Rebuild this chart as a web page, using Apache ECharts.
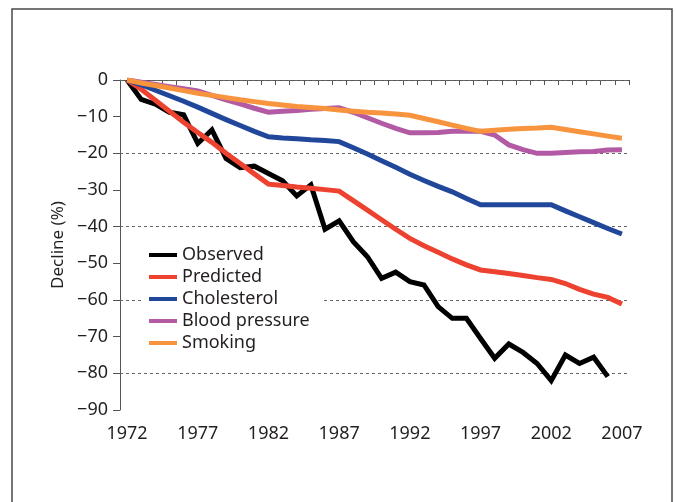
<!DOCTYPE html>
<html>
<head>
<meta charset="utf-8">
<script src="https://cdn.jsdelivr.net/npm/echarts@6/dist/echarts.min.js"></script>
<style>
html,body{margin:0;padding:0;background:#fff;}
#chart{width:676px;height:502px;}
</style>
</head>
<body>
<div id="chart"></div>
<script>
var years = [];
for (var y = 1972; y <= 2007; y++) years.push(String(y));

var observed = [0, -5.3, -6.6, -8.8, -9.5, -17.3, -13.6, -21.4, -23.9, -23.5, -25.5, -27.5,
  -31.6, -28.6, -40.7, -38.4, -44.1, -48.2, -54.1, -52.4, -55.0, -55.9, -61.8, -65.0, -65.0,
  -70.5, -75.9, -72.0, -74.3, -77.3, -82.0, -75.0, -77.3, -75.6, -80.9, null];
var predicted = [0, -2.5, -5.5, -8.5, -11.5, -14.3, -17.0, -20.0, -22.8, -25.6, -28.4, -28.8,
  -29.2, -29.5, -29.9, -30.3, -32.9, -35.5, -38.1, -40.7, -43.2, -45.2, -47.0, -48.8, -50.4,
  -51.8, -52.3, -52.8, -53.3, -53.9, -54.4, -55.5, -57.1, -58.4, -59.3, -61.1];
var cholesterol = [0, -1.3, -2.8, -4.3, -5.8, -7.4, -9.1, -10.8, -12.4, -14.0, -15.5, -15.8,
  -16.0, -16.3, -16.5, -16.8, -18.5, -20.2, -22.0, -23.8, -25.7, -27.4, -29.0, -30.5, -32.3,
  -34.0, -34.0, -34.0, -34.0, -34.0, -34.0, -35.7, -37.3, -38.9, -40.5, -42.0];
var bloodPressure = [0, -0.6, -1.2, -1.8, -2.4, -3.0, -4.2, -5.4, -6.5, -7.7, -8.8, -8.5,
  -8.3, -8.0, -7.8, -7.6, -8.8, -10.3, -11.8, -13.2, -14.4, -14.4, -14.3, -14.0, -14.0,
  -14.0, -15.0, -17.7, -19.0, -20.0, -20.0, -19.8, -19.6, -19.5, -19.1, -19.0];
var smoking = [0, -0.8, -1.5, -2.2, -2.9, -3.6, -4.2, -4.8, -5.4, -5.9, -6.4, -6.8,
  -7.2, -7.5, -7.8, -8.2, -8.5, -8.8, -9.0, -9.3, -9.6, -10.5, -11.4, -12.3, -13.2,
  -14.0, -13.7, -13.4, -13.2, -13.1, -12.9, -13.5, -14.1, -14.7, -15.3, -15.9];
var gridValues = [0, -20, -40, -60, -80];

var seriesNames = ['Observed', 'Predicted', 'Cholesterol', 'Blood pressure', 'Smoking'];
var seriesData = [observed, predicted, cholesterol, bloodPressure, smoking];
var colors = ['#000000', '#ee4230', '#21479b', '#b35aa5', '#f7943d'];

var FONT = 'Noto Sans';
var chart = echarts.init(document.getElementById('chart'), null, {renderer: 'canvas'});

var series = [{
  type: 'line', data: [], silent: true, z: 1,
  markLine: {
    silent: true, symbol: 'none', label: {show: false}, z: 1,
    lineStyle: {color: '#666', type: [3, 3], width: 1},
    data: gridValues.map(function (v) { return {yAxis: v}; })
  }
}];
seriesNames.forEach(function (n, i) {
  series.push({
    name: n, type: 'line', data: seriesData[i], showSymbol: false, symbol: 'none',
    lineStyle: {color: colors[i], width: 5, join: 'miter'}, itemStyle: {color: colors[i]},
    z: 3, connectNulls: false
  });
});

chart.setOption({
  animation: false,
  backgroundColor: '#fff',
  graphic: [{
    type: 'rect', shape: {x: 12, y: 9, width: 660, height: 510},
    style: {fill: 'none', stroke: '#4a4a4a', lineWidth: 1.5}, silent: true
  }],
  grid: {left: 120, right: 47, top: 80, bottom: 92, containLabel: false},
  legend: {
    orient: 'vertical', left: 141, top: 238, z: 20,
    data: seriesNames, icon: 'rect', itemWidth: 28, itemHeight: 4, itemGap: 4,
    padding: [8, 12, 8, 8], backgroundColor: '#fff',
    textStyle: {fontFamily: FONT, fontSize: 18, color: '#231f20', lineHeight: 17}
  },
  xAxis: {
    type: 'category', data: years, boundaryGap: true,
    axisLine: {lineStyle: {color: '#555', width: 1}},
    axisTick: {show: true, interval: 0, length: 5, lineStyle: {color: '#555'}},
    axisLabel: {interval: 4, margin: 15, fontFamily: FONT, fontSize: 18, color: '#231f20'},
    splitLine: {show: false}
  },
  yAxis: {
    type: 'value', min: -90, max: 0, interval: 10,
    name: 'Decline (%)', nameLocation: 'middle', nameGap: 53, nameRotate: 90,
    nameTextStyle: {fontFamily: FONT, fontSize: 17, color: '#231f20'},
    axisLine: {show: true, lineStyle: {color: '#555', width: 1}},
    axisTick: {show: true, length: 7, lineStyle: {color: '#555'}},
    axisLabel: {margin: 12, fontFamily: FONT, fontSize: 18, color: '#231f20',
      formatter: function (v) { return v < 0 ? '\u2212' + Math.abs(v) : String(v); }},
    splitLine: {show: false}
  },
  series: series
});
</script>
</body>
</html>
